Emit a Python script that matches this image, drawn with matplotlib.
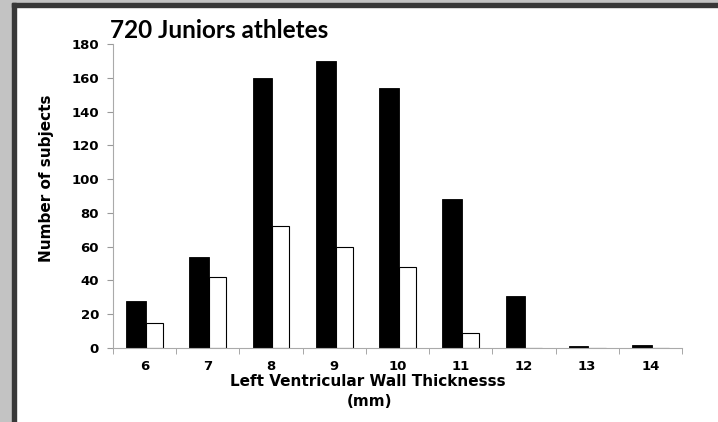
import numpy as np
import matplotlib
matplotlib.use('Agg')
import matplotlib.pyplot as plt
from matplotlib.patches import Rectangle

# datos
thickness = ['6', '7', '8', '9', '10', '11', '12', '13', '14']
black_vals = [28, 54, 160, 170, 154, 88, 31, 1, 2]
white_vals = [15, 42, 72, 60, 48, 9, 0, 0, 0]

fig = plt.figure(figsize=(7.18, 4.22), dpi=100)
fig.patch.set_facecolor('white')

# marco gris de la captura
W, H = 718, 422
fig.patches.append(Rectangle((0, 0), 12/W, 1, transform=fig.transFigure, color='#c3c3c3', zorder=0))
fig.patches.append(Rectangle((0, 1-3/H), 1, 3/H, transform=fig.transFigure, color='#c3c3c3', zorder=0))
fig.patches.append(Rectangle((12/W, 0), 4/W, 1-3/H, transform=fig.transFigure, color='#383838', zorder=0))
fig.patches.append(Rectangle((12/W, 1-7/H), 1-12/W, 4/H, transform=fig.transFigure, color='#383838', zorder=0))

ax = fig.add_axes([113/W, 74/H, (682-113)/W, (348-44)/H])
x = np.arange(len(thickness))
ax.bar(x - 0.29, black_vals, width=0.31, align='edge', color='black', edgecolor='black', linewidth=0.6)
ax.bar(x + 0.02, white_vals, width=0.27, align='edge', color='white', edgecolor='black', linewidth=0.8)

ax.set_xlim(-0.5, len(thickness) - 0.5)
ax.set_ylim(0, 180)
ax.set_yticks(np.arange(0, 181, 20))
ax.set_xticks(x)
ax.set_xticklabels(thickness)
ax.set_xticks(np.arange(-0.5, len(thickness)), minor=True)
ax.tick_params(axis='x', which='major', length=0, pad=9)
ax.tick_params(axis='x', which='minor', length=4, color='#999999')
ax.tick_params(axis='y', length=4, color='#999999', pad=6)
for lab in ax.get_xticklabels() + ax.get_yticklabels():
    lab.set_fontsize(9.5)
    lab.set_fontweight('bold')
for s in ['top', 'right']:
    ax.spines[s].set_visible(False)
for s in ['left', 'bottom']:
    ax.spines[s].set_color('#aaaaaa')
    ax.spines[s].set_linewidth(0.8)

fig.text(368/W, 1-382/H, 'Left Ventricular Wall Thicknesss', ha='center', va='center',
         fontsize=11, fontweight='bold')
fig.text(370/W, 1-402/H, '(mm)', ha='center', va='center', fontsize=11, fontweight='bold')
fig.text(47/W, 1-178/H, 'Number of subjects', ha='center', va='center', rotation=90,
         fontsize=11, fontweight='bold')
fig.text(110/W, 1-30/H, '720 Juniors athletes', ha='left', va='center',
         fontsize=17.5, fontweight='bold', family='Lato')

plt.savefig('out.png', dpi=100)
